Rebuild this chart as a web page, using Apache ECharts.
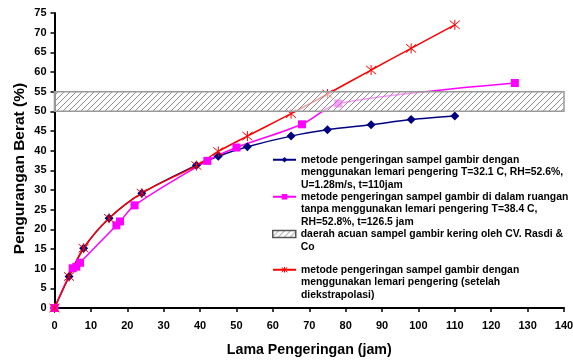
<!DOCTYPE html>
<html>
<head>
<meta charset="utf-8">
<script src="https://cdn.jsdelivr.net/npm/echarts@6/dist/echarts.min.js"></script>
<style>
  html, body { margin: 0; padding: 0; background: #fff; }
  #container { width: 573px; height: 360px; }
</style>
</head>
<body>
<div id="container"></div>
<script>
// data
const dryerX = [0, 4, 8, 15, 24, 39, 45, 53, 65, 75, 87, 98, 110]
const dryerY = [0, 8, 15.2, 22.8, 29.2, 36.3, 38.6, 41, 43.7, 45.3, 46.6, 47.9, 48.8]
const roomX = [0, 5, 6, 7, 17, 18, 22, 42, 50, 68, 78, 126.5]
const roomY = [0, 10.1, 10.5, 11.5, 21, 22, 26.1, 37.4, 40.8, 46.7, 52, 57.2]
const extraX = [0, 4, 8, 15, 24, 39, 45, 53, 65, 75, 87, 98, 110]
const extraY = [0, 8, 15.2, 22.8, 29.2, 36.2, 39.8, 43.7, 49.4, 54.4, 60.5, 66, 72]
const bandRange = [50, 55]

const names = [
  'metode pengeringan sampel gambir dengan\nmenggunakan lemari pengering T=32.1 C, RH=52.6%,\nU=1.28m/s, t=110jam',
  'metode pengeringan sampel gambir di dalam ruangan\ntanpa menggunakan lemari pengering T=38.4 C,\nRH=52.8%, t=126.5 jam',
  'daerah acuan sampel gambir kering oleh CV. Rasdi &\nCo',
  'metode pengeringan sampel gambir dengan\nmenggunakan lemari pengering (setelah\ndiekstrapolasi)'
]

const pairs = (xs, ys) => xs.map((x, i) => [x, ys[i]])

function hatch() {
  const c = document.createElement('canvas')
  c.width = 6
  c.height = 6
  const g = c.getContext('2d')
  g.fillStyle = 'rgba(255,255,255,0.6)'
  g.fillRect(0, 0, 6, 6)
  g.strokeStyle = '#8c8c8c'
  g.lineWidth = 1
  g.beginPath()
  g.moveTo(0, 6); g.lineTo(6, 0)
  g.moveTo(-1, 1); g.lineTo(1, -1)
  g.moveTo(5, 7); g.lineTo(7, 5)
  g.stroke()
  return { image: c, repeat: 'repeat' }
}
const hatchFill = hatch()

const font = '"Liberation Sans", Arial, sans-serif'
const star = 'path://M0 1L10 11M10 1L0 11M5 0L5 12'

// legend text is centred on its icon, so lift the first line onto the icon
// by putting blank lines in front of it
const topAlign = (s) => '\n'.repeat(s.split('\n').length - 1) + s

function legendAt(top, item) {
  return {
    left: 272,
    top: top,
    padding: 0,
    itemWidth: 23,
    itemHeight: 7,
    selectedMode: false,
    data: [item],
    formatter: topAlign,
    textStyle: {
      color: '#000',
      fontFamily: font,
      fontWeight: 'bold',
      fontSize: 10.4,
      lineHeight: 12.7
    }
  }
}

const myChart = echarts.init(document.getElementById('container'))

const option = {
  animation: false,
  backgroundColor: '#fff',
  grid: { left: 54.5, right: 9, top: 13, bottom: 52, outerBoundsMode: 'none', containLabel: false },
  legend: [
    legendAt(128, names[0]),
    legendAt(165, names[1]),
    legendAt(215, { name: names[2], icon: 'rect', itemStyle: { color: hatchFill, borderColor: '#555', borderWidth: 1.5 } }),
    legendAt(238, {
      name: names[3],
      itemStyle: { color: 'rgba(0,0,0,0)', borderColor: '#ff0000', borderWidth: 1 }
    })
  ],
  xAxis: {
    type: 'value',
    min: 0,
    max: 140,
    interval: 10,
    name: 'Lama Pengeringan (jam)',
    nameLocation: 'middle',
    nameGap: 35,
    nameTextStyle: { color: '#000', fontFamily: font, fontWeight: 'bold', fontSize: 14.2 },
    axisLine: { lineStyle: { color: '#000', width: 2 } },
    axisTick: { show: true, length: 4, lineStyle: { color: '#000', width: 1.5 } },
    axisLabel: { color: '#000', fontFamily: font, fontWeight: 'bold', fontSize: 11, margin: 12 },
    splitLine: { show: false }
  },
  yAxis: {
    type: 'value',
    min: 0,
    max: 75,
    interval: 5,
    name: 'Pengurangan Berat (%)',
    nameLocation: 'middle',
    nameGap: 27,
    nameMoveOverlap: false,
    nameTextStyle: { color: '#000', fontFamily: font, fontWeight: 'bold', fontSize: 15.5, padding: [0, 16, 0, 0] },
    axisLine: { show: true, lineStyle: { color: '#000', width: 2 } },
    axisTick: { show: true, length: 4, lineStyle: { color: '#000', width: 1.5 } },
    axisLabel: { color: '#000', fontFamily: font, fontWeight: 'bold', fontSize: 11, margin: 8 },
    splitLine: { show: false }
  },
  series: [
    {
      name: names[0],
      type: 'line',
      smooth: 0.3,
      symbol: 'diamond',
      symbolSize: 9,
      lineStyle: { color: '#000080', width: 1.5 },
      itemStyle: { color: '#000080' },
      data: pairs(dryerX, dryerY)
    },
    {
      name: names[1],
      type: 'line',
      smooth: 0.3,
      symbol: 'rect',
      symbolSize: 8,
      lineStyle: { color: '#ff00ff', width: 1.5 },
      itemStyle: { color: '#ff00ff' },
      data: pairs(roomX, roomY)
    },
    {
      name: names[3],
      type: 'line',
      smooth: 0.3,
      symbol: star,
      symbolSize: 10,
      lineStyle: { color: '#ff0000', width: 1.5 },
      itemStyle: { color: 'rgba(0,0,0,0)', borderColor: '#ff0000', borderWidth: 1 },
      data: pairs(extraX, extraY)
    },
    {
      name: names[2],
      type: 'line',
      data: [],
      markArea: {
        silent: true,
        z: 10,
        itemStyle: { color: hatchFill, borderColor: '#999', borderWidth: 1.5 },
        data: [[{ yAxis: bandRange[0] }, { yAxis: bandRange[1] }]]
      }
    }
  ]
}

myChart.setOption(option)
</script>
</body>
</html>
